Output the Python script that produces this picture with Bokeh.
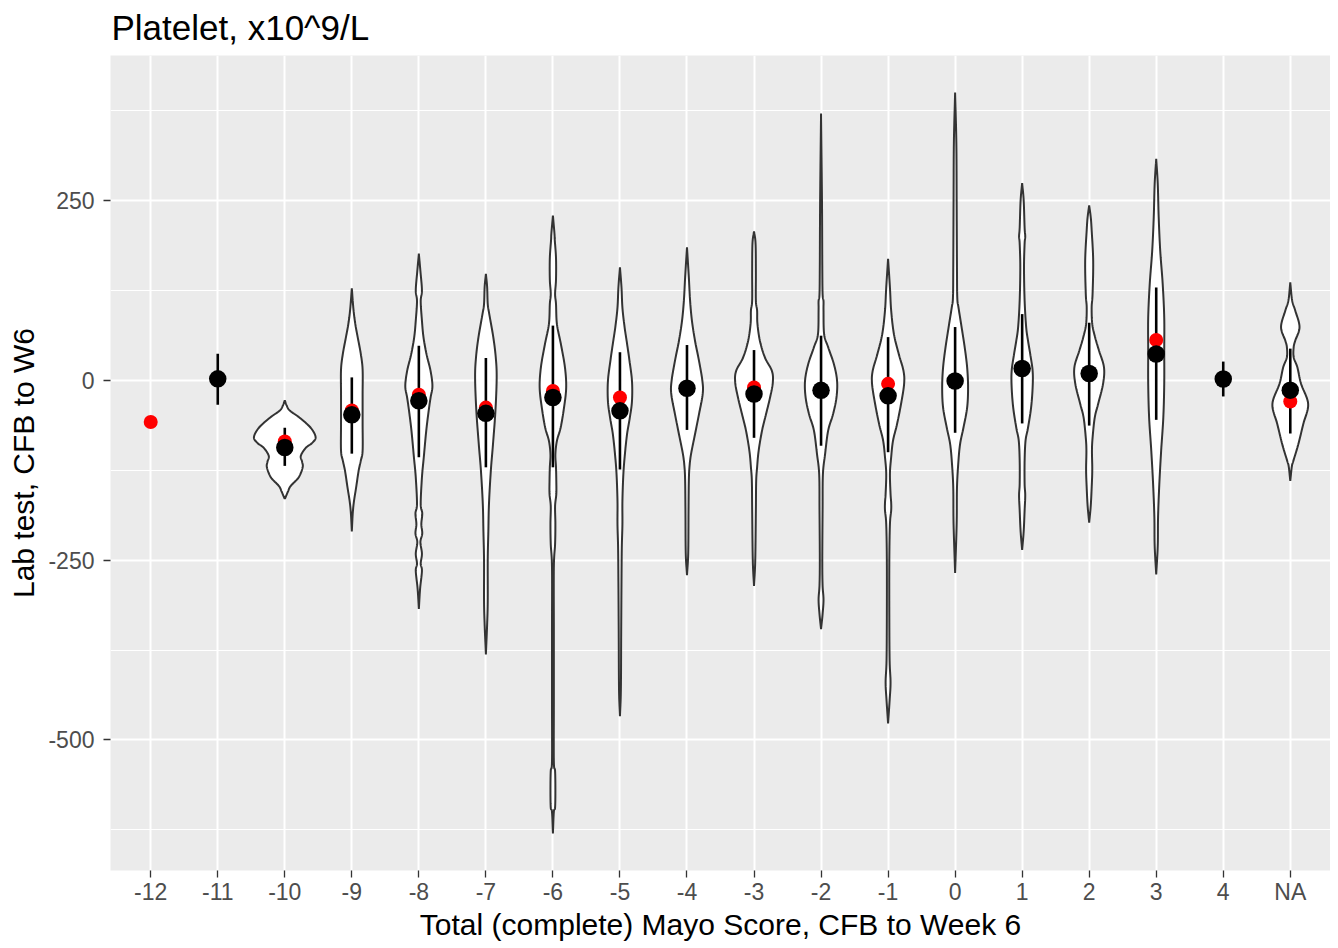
import math
import numpy as np
from bokeh.plotting import figure
from bokeh.models import FixedTicker, Range1d
from bokeh.embed import file_html
from bokeh.resources import INLINE

NAN = float("nan")

# ---------------- data ----------------
categories = ["-12", "-11", "-10", "-9", "-8", "-7", "-6", "-5", "-4", "-3",
              "-2", "-1", "0", "1", "2", "3", "4", "NA"]

y_ticks = [-500, -250, 0, 250]
y_tick_labels = ["-500", "-250", "0", "250"]

# black point (mean) and vertical bar (low / high)
mean_vals = [NAN, 2, -93.5, -48, -28.5, -46, -24, -42.5, -11, -19,
             -14, -21.6, -1, 16.4, 9.5, 36.5, 1.7, -13.7]
bar_low = [NAN, -34, -119, -102, -107, -121, -121, -124, -69, -80,
           -91, -100, -73, -60, -63, -55, -22.5, -74]
bar_high = [NAN, 37, -66, 4, 48, 31, 76, 39, 49, 42,
            62, 60, 74, 92, 80, 129, 26, 44]

# red point (median)
median_vals = [-58, 2, -85, -42, -20, -38, -15, -24, -11, -10,
               -14, -5, -1, 15, 8, 56, 1.7, -29.5]

# violin profiles: value levels and relative density (1 = widest violin)
violin_y = {
    "-10": [-165, -155, -147, -135, -121, -113, -105, -94, -87, -79, -66, -52, -42, -35, -28],
    "-9": [-210, -185, -168, -149, -126, -112, -98, -60, -20, 15, 37, 60, 79, 100, 128],
    "-8": [-318, -290, -265, -255, -241, -225, -213, -200, -185, -172, -135, -107, -70, -42,
           -24, -8, 13, 36, 60, 83, 110, 125, 152, 176],
    "-7": [-381, -340, -307, -250, -210, -172, -126, -89, -42, 4, 32, 60, 92, 106, 130, 148],
    "-6": [-630, -600, -594, -570, -543, -530, -450, -350, -260, -228, -200, -175, -158, -140,
           -121, -103, -84, -66, -38, -10, 18, 50, 78, 106, 120, 140, 170, 195, 204, 229],
    "-5": [-467, -430, -350, -280, -233, -200, -168, -131, -103, -75, -52, -29, -1, 27, 51,
           74, 101, 129, 157],
    "-4": [-271, -240, -180, -140, -121, -103, -75, -47, -19, -1, 27, 55, 83, 111, 143, 185],
    "-3": [-286, -250, -180, -140, -121, -98, -70, -47, -24, -3, 13, 32, 55, 79, 97, 111,
           150, 190, 207],
    "-2": [-346, -325, -305, -285, -250, -180, -131, -103, -70, -47, -24, -1, 22, 46, 64, 97,
           110, 120, 160, 250, 371],
    "-1": [-477, -445, -420, -390, -330, -250, -200, -181, -170, -158, -130, -107, -84, -61,
           -33, -5, 13, 36, 64, 97, 129, 169],
    "0": [-268, -200, -150, -117, -89, -66, -38, -10, 18, 46, 74, 101, 115, 157, 250, 330, 400],
    "1": [-236, -210, -181, -160, -144, -112, -84, -66, -38, -10, 13, 37, 55, 74, 111, 157,
          190, 200, 212, 250, 274],
    "2": [-198, -175, -150, -125, -98, -80, -52, -33, -5, 18, 41, 60, 78, 101, 120, 166, 209,
          227, 243],
    "3": [-270, -230, -190, -145, -98, -52, -5, 41, 87, 134, 180, 227, 273, 308],
    "NA": [-140, -120, -112, -89, -61, -33, -5, 18, 32, 46, 55, 74, 97, 111, 136],
}
violin_density = {
    "-10": [0, .10, .19, .45, .58, .56, .52, .68, .89, 1.0, .84, .48, .16, .06, 0],
    "-9": [0, .03, .07, .14, .22, .29, .35, .35, .35, .35, .29, .19, .11, .05, 0],
    "-8": [0, .04, .10, .06, .10, .05, .11, .08, .11, .06, .10, .16, .24, .32,
           .38, .44, .38, .25, .15, .10, .06, .10, .05, 0],
    "-7": [0, .04, .06, .06, .08, .10, .16, .23, .31, .35, .32, .24, .11, .06, .04, 0],
    "-6": [0, .03, .07, .08, .07, .03, .03, .03, .03, .07, .08, .07, .11, .11,
           .10, .08, .13, .25, .36, .43, .39, .26, .13, .10, .07, .10, .10, .06, .05, 0],
    "-5": [0, .03, .04, .05, .06, .08, .08, .11, .16, .23, .32, .39, .39, .31, .23,
           .15, .08, .05, 0],
    "-4": [0, .04, .05, .06, .08, .13, .26, .39, .51, .50, .39, .26, .16, .10, .06, 0],
    "-3": [0, .04, .06, .07, .10, .15, .26, .39, .52, .61, .58, .35, .19, .11, .10, .06,
           .06, .05, 0],
    "-2": [0, .05, .08, .05, .04, .05, .06, .13, .23, .39, .50, .52, .42, .23, .10, .08,
           .08, .05, .04, .03, 0],
    "-1": [0, .05, .08, .05, .04, .04, .06, .10, .10, .08, .06, .10, .16, .29,
           .42, .52, .50, .35, .19, .10, .06, 0],
    "0": [0, .05, .06, .10, .16, .27, .39, .42, .39, .31, .21, .11, .07, .06, .05, .04, 0],
    "1": [0, .05, .08, .10, .08, .08, .11, .19, .29, .34, .34, .26, .19, .13, .08, .06,
          .08, .10, .08, .05, 0],
    "2": [0, .05, .08, .10, .09, .11, .18, .29, .45, .48, .32, .19, .10, .08, .11, .13, .08,
          .05, 0],
    "3": [0, .05, .06, .10, .16, .23, .26, .26, .26, .21, .13, .08, .05, 0],
    "NA": [0, .05, .10, .26, .42, .58, .35, .23, .11, .11, .16, .30, .16, .06, 0],
}

# ---------------- helpers ----------------
HALF_WIDTH = 0.46  # half of the widest violin, in category units


def catmull(vs, ws, n=10):
    P = np.column_stack([np.asarray(vs, float), np.asarray(ws, float)])
    P = np.vstack([2 * P[0] - P[1], P, 2 * P[-1] - P[-2]])
    out = []
    for i in range(1, len(P) - 2):
        p0, p1, p2, p3 = P[i - 1], P[i], P[i + 1], P[i + 2]
        for t in np.linspace(0, 1, n, endpoint=False):
            t2, t3 = t * t, t * t * t
            pt = 0.5 * ((2 * p1) + (-p0 + p2) * t + (2 * p0 - 5 * p1 + 4 * p2 - p3) * t2
                        + (-p0 + 3 * p1 - 3 * p2 + p3) * t3)
            out.append(pt)
    out.append(P[-2])
    out = np.array(out)
    out[:, 1] = np.clip(out[:, 1], 0, None)
    return out[:, 0], out[:, 1]


xpos = {c: i + 1 for i, c in enumerate(categories)}

FONT = "Liberation Sans"
Y0, Y1 = -681.5, 451.5
X0, X1 = 0.4, len(categories) + 0.6

p = figure(frame_width=1220, frame_height=815, output_backend="svg", toolbar_location=None,
           x_range=Range1d(X0, X1), y_range=Range1d(Y0, Y1),
           min_border_left=110, min_border_right=0, min_border_top=55, min_border_bottom=70)

p.background_fill_color = "#EBEBEB"
p.border_fill_color = "white"
p.outline_line_color = None

p.title.text = "Platelet, x10^9/L"
p.title.text_font = FONT
p.title.text_font_size = "35px"
p.title.text_font_style = "normal"
p.title.text_color = "black"
p.title.align = "left"
p.title.vertical_align = "top"
p.title.offset = 1
p.title.standoff = 13

# axes
p.xaxis.ticker = FixedTicker(ticks=list(range(1, len(categories) + 1)))
p.xaxis.major_label_overrides = {i + 1: c for i, c in enumerate(categories)}
p.yaxis.ticker = FixedTicker(ticks=y_ticks, minor_ticks=[-625, -375, -125, 125, 375])
p.yaxis.major_label_overrides = dict(zip(y_ticks, y_tick_labels))
p.xaxis.axis_label = "Total (complete) Mayo Score, CFB to Week 6"
p.yaxis.axis_label = "Lab test, CFB to W6"
for ax in (p.xaxis, p.yaxis):
    ax.axis_line_color = None
    ax.major_tick_line_color = "#333333"
    ax.major_tick_line_width = 1.3
    ax.major_tick_out = 7
    ax.major_tick_in = 0
    ax.minor_tick_line_color = None
    ax.major_label_text_font = FONT
    ax.major_label_text_font_size = "23px"
    ax.major_label_text_color = "#4D4D4D"
    ax.axis_label_text_font = FONT
    ax.axis_label_text_font_size = "30px"
    ax.axis_label_text_font_style = "normal"
    ax.axis_label_text_color = "black"
p.xaxis.major_label_standoff = 1
p.xaxis.axis_label_standoff = 0
p.yaxis.major_label_standoff = 9
p.yaxis.axis_label_standoff = 5

p.xgrid.grid_line_color = "white"
p.xgrid.grid_line_width = 2
p.ygrid.grid_line_color = "white"
p.ygrid.grid_line_width = 2
p.ygrid.minor_grid_line_color = "white"
p.ygrid.minor_grid_line_width = 1

# violins
vx, vy = [], []
for c in categories:
    if c not in violin_y:
        continue
    ys, ws = catmull(violin_y[c], violin_density[c])
    cx = xpos[c]
    xs = np.concatenate([cx + ws * HALF_WIDTH, (cx - ws * HALF_WIDTH)[::-1]])
    yy = np.concatenate([ys, ys[::-1]])
    vx.append(list(xs))
    vy.append(list(yy))
p.patches(vx, vy, fill_color="white", line_color="#333333", line_width=2)

# bars
bx = [xpos[c] for c, lo in zip(categories, bar_low) if not math.isnan(lo)]
blo = [lo for lo in bar_low if not math.isnan(lo)]
bhi = [hi for hi in bar_high if not math.isnan(hi)]
p.segment(x0=bx, y0=blo, x1=bx, y1=bhi, line_color="black", line_width=2.6)

# median (red) then mean (black)
p.scatter([xpos[c] for c in categories], median_vals, size=14, fill_color="red",
          line_color=None)
mx = [xpos[c] for c, m in zip(categories, mean_vals) if not math.isnan(m)]
my = [m for m in mean_vals if not math.isnan(m)]
p.scatter(mx, my, size=17.5, fill_color="black", line_color=None)

open("out.html", "w").write(file_html(p, INLINE))
